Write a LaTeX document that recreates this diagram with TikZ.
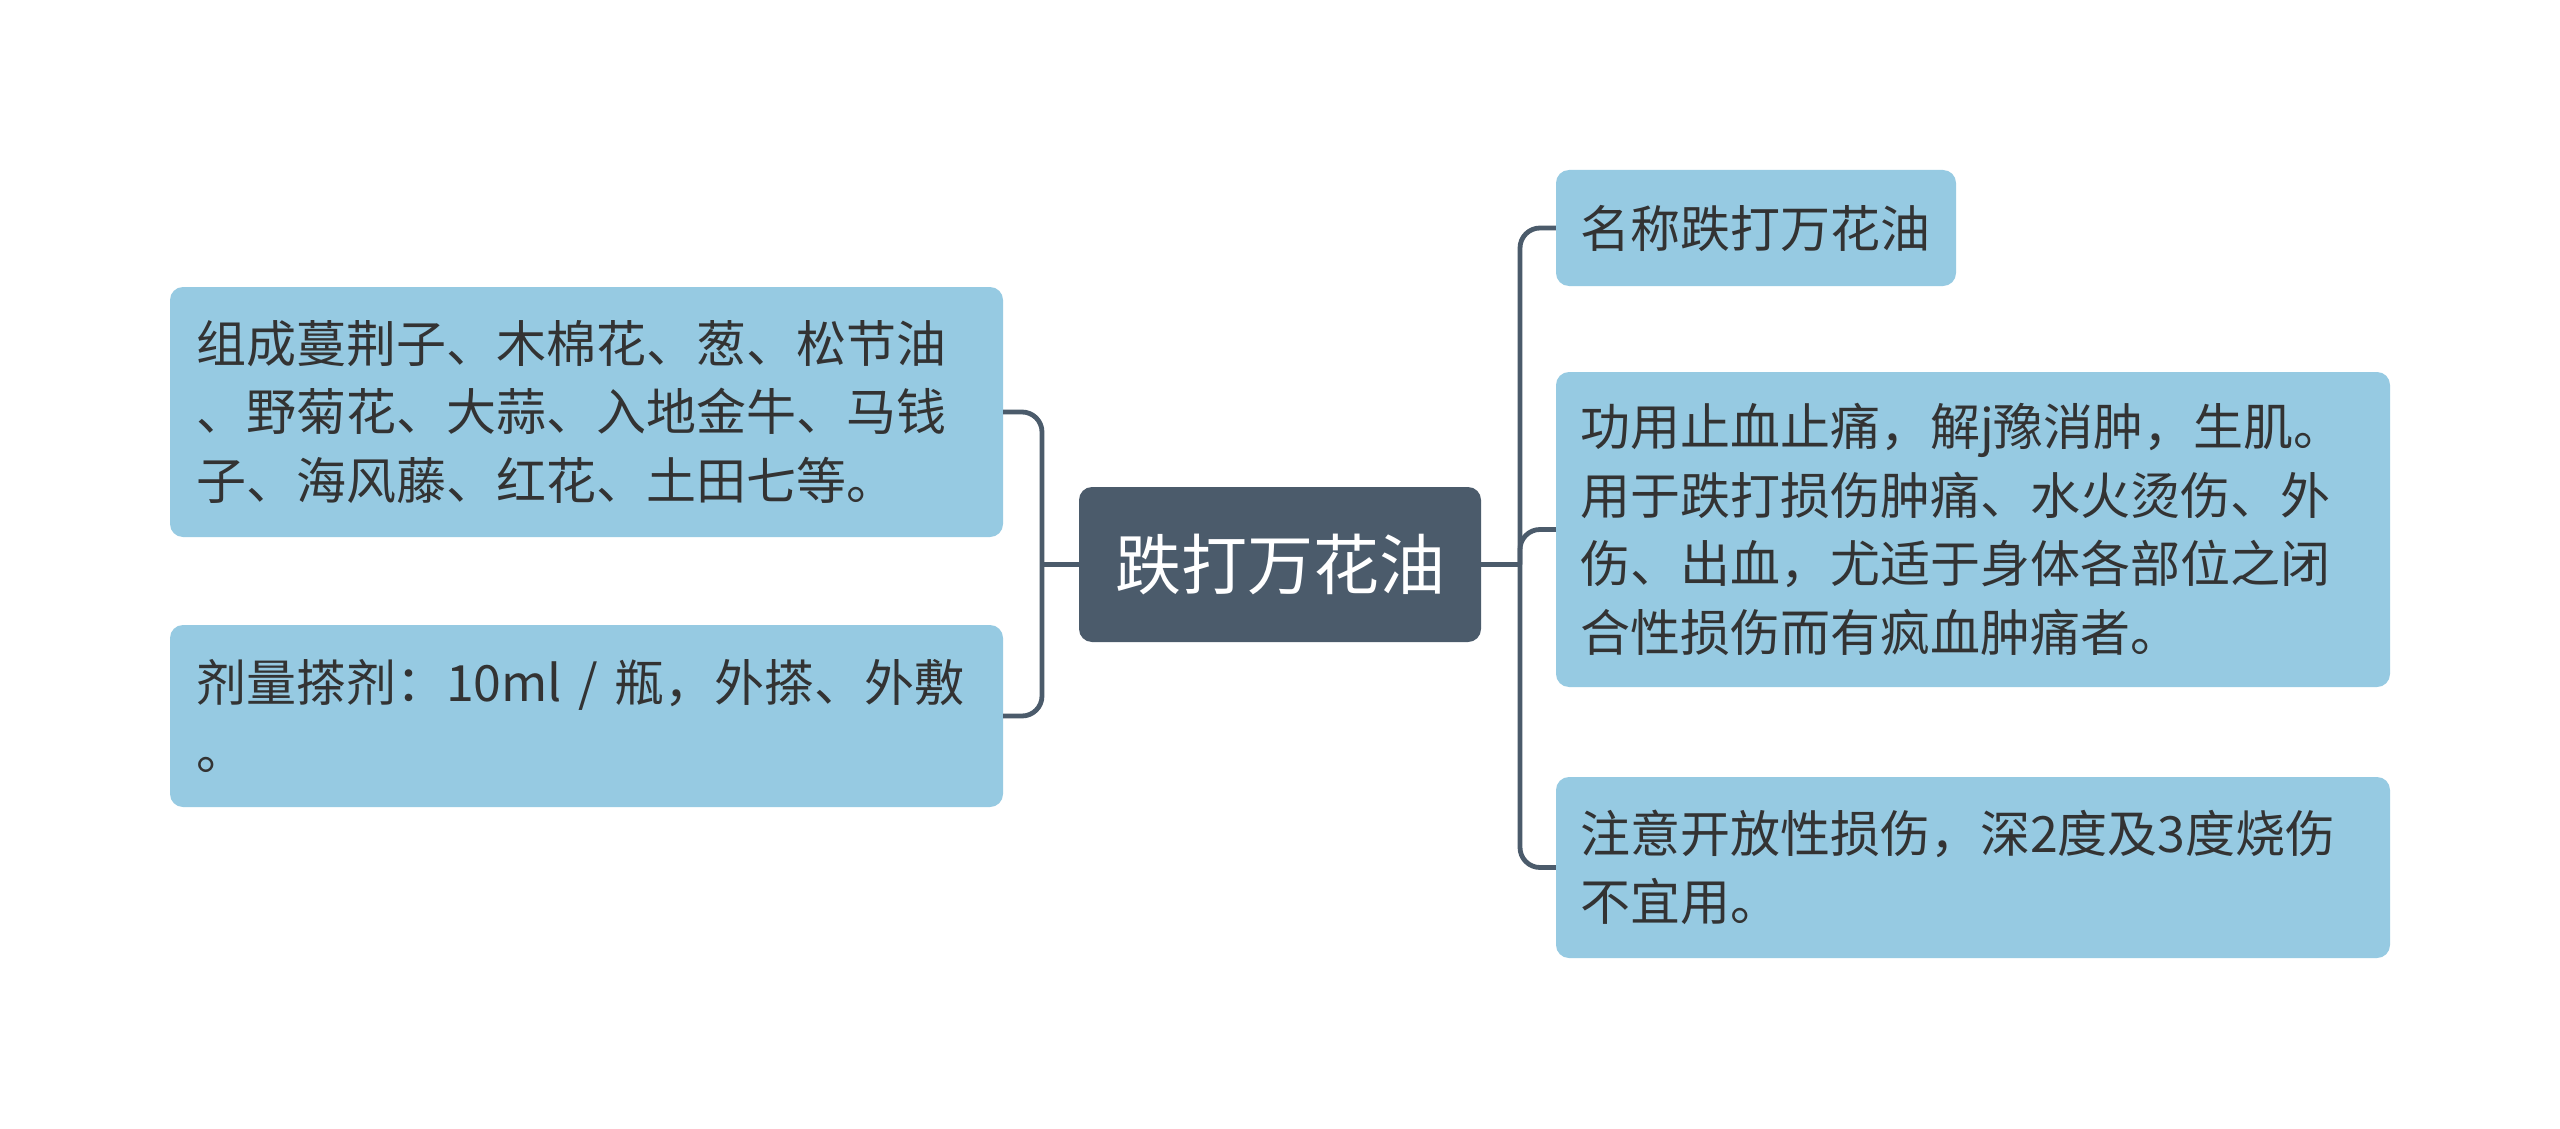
\documentclass[tikz,border=0pt]{standalone}
\usepackage{fontspec}
\newfontfamily\cjk{Noto Sans CJK SC}
\definecolor{leafc}{HTML}{96CAE2}
\definecolor{rootc}{HTML}{4B5B6B}
\definecolor{linec}{HTML}{4B5B6B}
\definecolor{txt}{HTML}{333333}
\tikzset{
  leaf/.style={fill=leafc, rounded corners=13pt, inner sep=0pt, align=left,
    text=txt, font=\cjk\fontsize{50}{68.6}\selectfont},
  rootbox/.style={fill=rootc, rounded corners=13pt, inner sep=0pt, align=center,
    text=white, font=\cjk\fontsize{66}{80}\selectfont,
    minimum width=402pt, minimum height=155pt},
  conn/.style={draw=linec, line width=4.8pt, rounded corners=20pt}
}
\begin{document}
\begin{tikzpicture}[x=1pt,y=1pt]
\useasboundingbox (0,0) rectangle (2560,-1129);
\fill[white] (0,0) rectangle (2560,-1129);

\node[rootbox] (c) at (1280,-564.5) {跌打万花油};

\node[leaf, minimum width=833pt, minimum height=250pt, text width=781pt] (l1) at (586.5,-412)
  {组成蔓荆子、木棉花、葱、松节油\\、野菊花、大蒜、入地金牛、马钱\\子、海风藤、红花、土田七等。};
\node[leaf, minimum width=833pt, minimum height=182pt, text width=781pt] (l2) at (586.5,-716)
  {剂量搽剂：10ml~/~瓶，外搽、外敷\\。};

\node[leaf, minimum width=400pt, minimum height=116pt, text width=352pt] (r1) at (1756,-228)
  {名称跌打万花油};
\node[leaf, minimum width=834pt, minimum height=315pt, text width=786pt] (r2) at (1973,-529.5)
  {功用止血止痛，解j豫消肿，生肌。\\用于跌打损伤肿痛、水火烫伤、外\\伤、出血，尤适于身体各部位之闭\\合性损伤而有疯血肿痛者。};
\node[leaf, minimum width=834pt, minimum height=181pt, text width=786pt] (r3) at (1973,-867.5)
  {注意开放性损伤，深2度及3度烧伤\\不宜用。};

\coordinate (lb) at (1042,-564.5);
\coordinate (rb) at (1520,-564.5);

\draw[conn] (c.west) -- (lb);
\draw[conn] (l1.east) -| (lb) |- (l2.east);
\draw[conn] (c.east) -- (rb);
\draw[conn] (r1.west) -| (rb) |- (r3.west);
\draw[conn] (r2.west) -| (rb);
\end{tikzpicture}
\end{document}
